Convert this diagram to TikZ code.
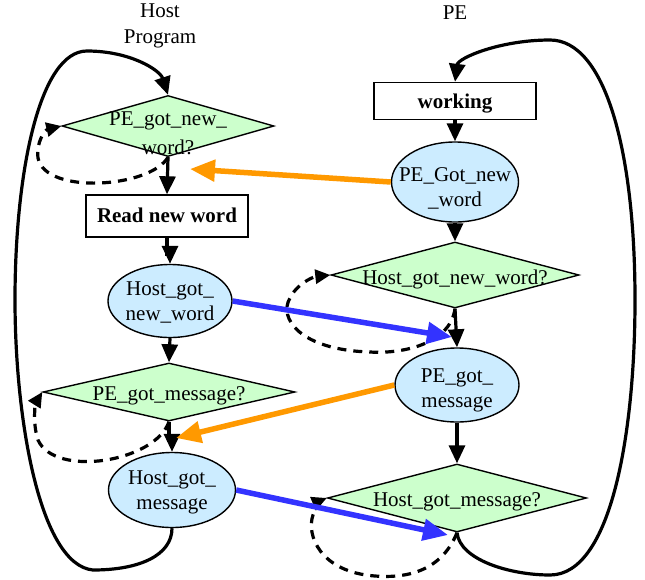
\documentclass[tikz,border=0pt]{standalone}
\usepackage{fontspec}
\setmainfont{Liberation Serif}
\usetikzlibrary{shapes.geometric,arrows.meta,calc}
\definecolor{dgreen}{RGB}{204,255,204}
\definecolor{eblue}{RGB}{204,236,255}
\definecolor{oarrow}{RGB}{255,153,0}
\definecolor{barrow}{RGB}{51,51,255}
\newcommand{\zb}[2][4pt]{\makebox[0pt]{\raisebox{-#1}[\height][\depth]{#2}}}
\begin{document}
\begin{tikzpicture}[x=1pt,y=-1pt,
  every node/.style={font=\fontsize{21}{25}\selectfont, inner sep=0pt, align=center},
  decision/.style={diamond, draw, fill=dgreen, line width=1.4pt},
  state/.style={ellipse, draw, fill=eblue, line width=1.4pt},
  proc/.style={rectangle, draw, fill=white, line width=1.4pt, font=\fontsize{21}{25}\selectfont\bfseries},
  flow/.style={line width=3.2pt, -{Triangle[length=18pt,width=16pt]}},
  loopback/.style={line width=3.2pt, dash pattern=on 9pt off 7pt, -{Triangle[length=15pt,width=14pt]}},
  signal/.style={line width=5.5pt, -{Triangle[length=25pt,width=21pt]}}]
\useasboundingbox (0,0) rectangle (645,579);

% headers
\node[font=\fontsize{21}{26}\selectfont] (hhost) at (160,26) {Host\\Program};
\node (hpe) at (455,13) {PE};

% left column
\node[decision, minimum width=212pt, minimum height=61pt] (d1) at (168,126) {\zb[5pt]{PE\_got\_new\_}\\\zb[9pt]{word?}};
\node[proc, minimum width=162pt, minimum height=42pt] (r1) at (167,216) {\zb[-1pt]{Read new word}};
\node[state, minimum width=124pt, minimum height=73pt] (e1) at (170,301) {\zb[1pt]{Host\_got\_}\\\zb[1pt]{new\_word}};
\node[decision, minimum width=252pt, minimum height=58pt] (d2) at (169,392) {\zb{PE\_got\_message?}};
\node[state, minimum width=127pt, minimum height=75pt] (e2) at (172,490) {\zb[2pt]{Host\_got\_}\\\zb[2pt]{message}};

% right column
\node[proc, minimum width=162pt, minimum height=37pt] (r2) at (455,101) {\zb[3pt]{working}};
\node[state, minimum width=127pt, minimum height=80pt] (e3) at (455,182) {\zb[6pt]{PE\_Got\_new}\\\zb[6pt]{\_word}};
\node[decision, minimum width=248pt, minimum height=66pt] (d3) at (455,275) {\zb{Host\_got\_new\_word?}};
\node[state, minimum width=124pt, minimum height=74pt] (e4) at (457,385) {\zb[5pt]{PE\_got\_}\\\zb[5pt]{message}};
\node[decision, minimum width=259pt, minimum height=68pt] (d4) at (457,498) {\zb{Host\_got\_message?}};

% signal end points
\coordinate (o1) at (190,169);
\coordinate (b1) at (452,337);
\coordinate (o2) at (176,438);
\coordinate (b2) at (448,535);

% main flow left
\draw[flow] (d1.south) -- (r1.north);
\draw[flow] (r1.south) -- (r1.south |- 0,254) -| (e1.north);
\draw[flow] (e1.south) -- (d2.north);
\draw[flow] (d2.south) -- (d2.south |- 0,440) -| (e2.north);

% main flow right
\draw[flow] (r2.south) -- (e3.north);
\draw[flow] (e3.south) -- (d3.north);
\draw[flow] (d3.south) -- (e4.north);
\draw[flow] (e4.south) -- (d4.north);

% big loops
\draw[flow] (e2.south) .. controls (172,555) and (140,570) .. (93,570)
  .. controls (40,565) and (15,420) .. (15,300)
  .. controls (15,170) and (40,51) .. (87,51)
  .. controls (130,51) and (160,70) .. (d1.north);
\draw[flow] (d4.south) .. controls (460,560) and (510,575) .. (550,575)
  .. controls (612,575) and (635,430) .. (635,300)
  .. controls (635,150) and (605,40) .. (550,40)
  .. controls (500,40) and (458,58) .. (r2.north);

% dashed wait loops
\draw[loopback] (d1.south) .. controls (150,188) and (45,195) .. (38,158)
  .. controls (36,142) and (45,130) .. (d1.west);
\draw[loopback] (d2.south) .. controls (155,462) and (55,478) .. (38,440)
  .. controls (32,422) and (36,402) .. (d2.west);
\draw[loopback] (d3.south) .. controls (450,345) and (400,354) .. (370,352)
  .. controls (300,350) and (278,318) .. (290,298)
  .. controls (296,285) and (312,277) .. (d3.west);
\draw[loopback] (d4.south) .. controls (440,575) and (400,578) .. (375,576)
  .. controls (320,572) and (306,535) .. (313,515)
  .. controls (316,505) and (322,500) .. (d4.west);

% signals
\draw[signal, oarrow] (e3.west) -- (o1);
\draw[signal, barrow] (e1.east) -- (b1);
\draw[signal, oarrow] (e4.west) -- (o2);
\draw[signal, barrow] (e2.east) -- (b2);
\end{tikzpicture}
\end{document}
